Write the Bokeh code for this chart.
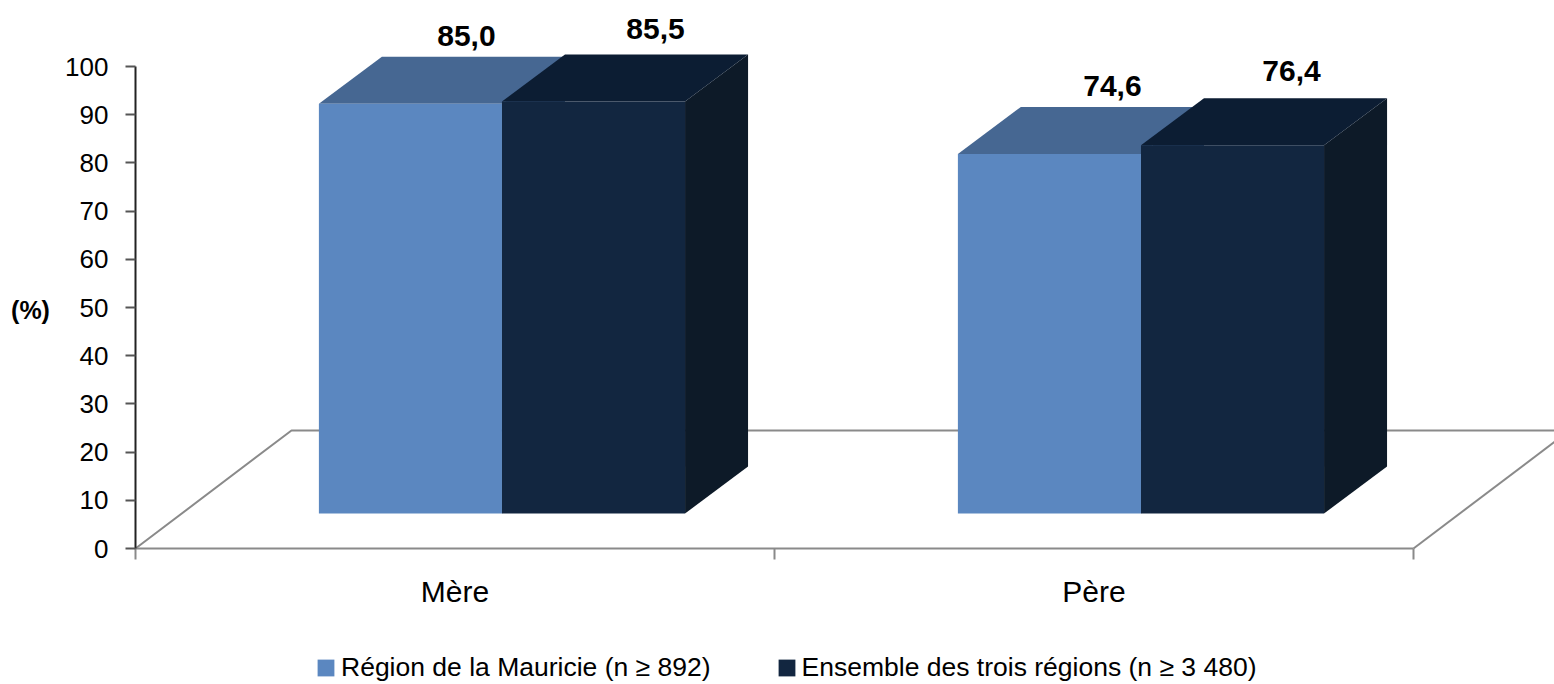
from bokeh.plotting import figure
from bokeh.models import FixedTicker, Legend, LegendItem, Range1d
from bokeh.core.properties import value
from bokeh.embed import file_html
from bokeh.resources import INLINE

categories = ["Mère", "Père"]
series_names = ["Région de la Mauricie (n ≥ 892)", "Ensemble des trois régions (n ≥ 3 480)"]
mauricie = [85.0, 74.6]
ensemble = [85.5, 76.4]
y_ticks = list(range(0, 101, 10))
y_title = "(%)"

FONT = "Liberation Sans"
front_colors = ["#5B87C0", "#122640"]
top_colors = ["#466792", "#0C1D33"]
side_colors = ["#3F5F88", "#0D1A28"]
GREY = "#8A8A8A"

# 3D projection, in data units
floor_dx, floor_dy = 0.2441, 24.48      # depth of the floor
bar_dx, bar_dy = 0.0986, 9.75           # depth of a bar
base_y = 7.26                           # height of the bars' front base
bar_w = 0.2865
group_mid = 0.0735                      # shift of the bars' join from the category centre

X_SCALE, Y_SCALE = 639, 4.82            # pixels per data unit
p = figure(width=1554, height=684, output_backend="svg", toolbar_location=None,
           x_range=Range1d(-135 / X_SCALE, 1419 / X_SCALE),
           y_range=Range1d(-136 / Y_SCALE, 548 / Y_SCALE),
           min_border_left=0, min_border_right=0, min_border_top=0, min_border_bottom=0)
p.grid.visible = False
p.outline_line_color = None
p.background_fill_color = None

# floor outline
p.line([0, floor_dx, 2 + floor_dx], [0, floor_dy, floor_dy], line_color=GREY, line_width=2)
p.line([2, 2 + floor_dx], [0, floor_dy], line_color=GREY, line_width=2)

front_renderers = []
for s, vals in enumerate([mauricie, ensemble]):
    for c, v in enumerate(vals):
        left = c + 0.5 + group_mid + (s - 1) * bar_w
        right = left + bar_w
        top = base_y + v
        p.patch([right, right + bar_dx, right + bar_dx, right],
                [base_y, base_y + bar_dy, top + bar_dy, top],
                fill_color=side_colors[s], line_color=None)
        p.patch([left, right, right + bar_dx, left + bar_dx],
                [top, top, top + bar_dy, top + bar_dy],
                fill_color=top_colors[s], line_color=None)
        r = p.quad(left=left, right=right, bottom=base_y, top=top,
                   fill_color=front_colors[s], line_color=None)
        if c == 0:
            front_renderers.append(r)

# value labels, above the back top edge of each bar
label_nudge_px = [[-7, -1], [0, -4]]
label_lift_px = [[21, 25], [21, 27]]
for s, vals in enumerate([mauricie, ensemble]):
    for c, v in enumerate(vals):
        left = c + 0.5 + group_mid + (s - 1) * bar_w
        p.text([left + bar_w / 2 + bar_dx], [base_y + v + bar_dy], text=[f"{v:.1f}".replace(".", ",")],
               text_font=value(FONT), text_font_style="bold", text_font_size="30px",
               text_color="#000000", text_align="center", text_baseline="alphabetic",
               x_offset=[label_nudge_px[c][s]], y_offset=[-label_lift_px[c][s]])

# axis title
p.text([-105 / X_SCALE], [49.4], text=[y_title], text_font=value(FONT), text_font_size="25px",
       text_font_style="bold", text_color="#000000", text_align="center", text_baseline="middle")

# axes
ya = p.yaxis[0]
ya.fixed_location = 0
ya.ticker = FixedTicker(ticks=y_ticks)
ya.bounds = (0, 100)
ya.axis_line_color = "#222222"
ya.axis_line_width = 2
ya.major_tick_line_color = "#555555"
ya.major_tick_line_width = 2
ya.major_tick_out = 10
ya.major_tick_in = 0
ya.minor_tick_line_color = None
ya.major_label_text_font = FONT
ya.major_label_text_font_size = "26px"
ya.major_label_text_color = "#000000"
ya.major_label_standoff = 17

xa = p.xaxis[0]
xa.fixed_location = 0
xa.ticker = FixedTicker(ticks=[0.5, 1.5], minor_ticks=[0, 1, 2])
xa.major_label_overrides = {0.5: categories[0], 1.5: categories[1]}
xa.bounds = (0, 2)
xa.axis_line_color = GREY
xa.axis_line_width = 2
xa.major_tick_line_color = None
xa.major_tick_out = 0
xa.major_tick_in = 0
xa.minor_tick_line_color = GREY
xa.minor_tick_line_width = 2
xa.minor_tick_out = 11
xa.minor_tick_in = 0
xa.major_label_text_font = FONT
xa.major_label_text_font_size = "30px"
xa.major_label_text_color = "#000000"
xa.major_label_standoff = 15

legend = Legend(
    items=[LegendItem(label=series_names[i], renderers=[front_renderers[i]]) for i in range(2)],
    orientation="horizontal", location=(315, 1),
    border_line_color=None, background_fill_color=None, background_fill_alpha=0,
    label_text_font=FONT, label_text_font_size="26.5px", label_text_color="#000000",
    glyph_width=21, glyph_height=21, label_standoff=5, spacing=65, padding=0, margin=0,
)
p.add_layout(legend, "center")

open("out.html", "w").write(file_html(p, INLINE))
